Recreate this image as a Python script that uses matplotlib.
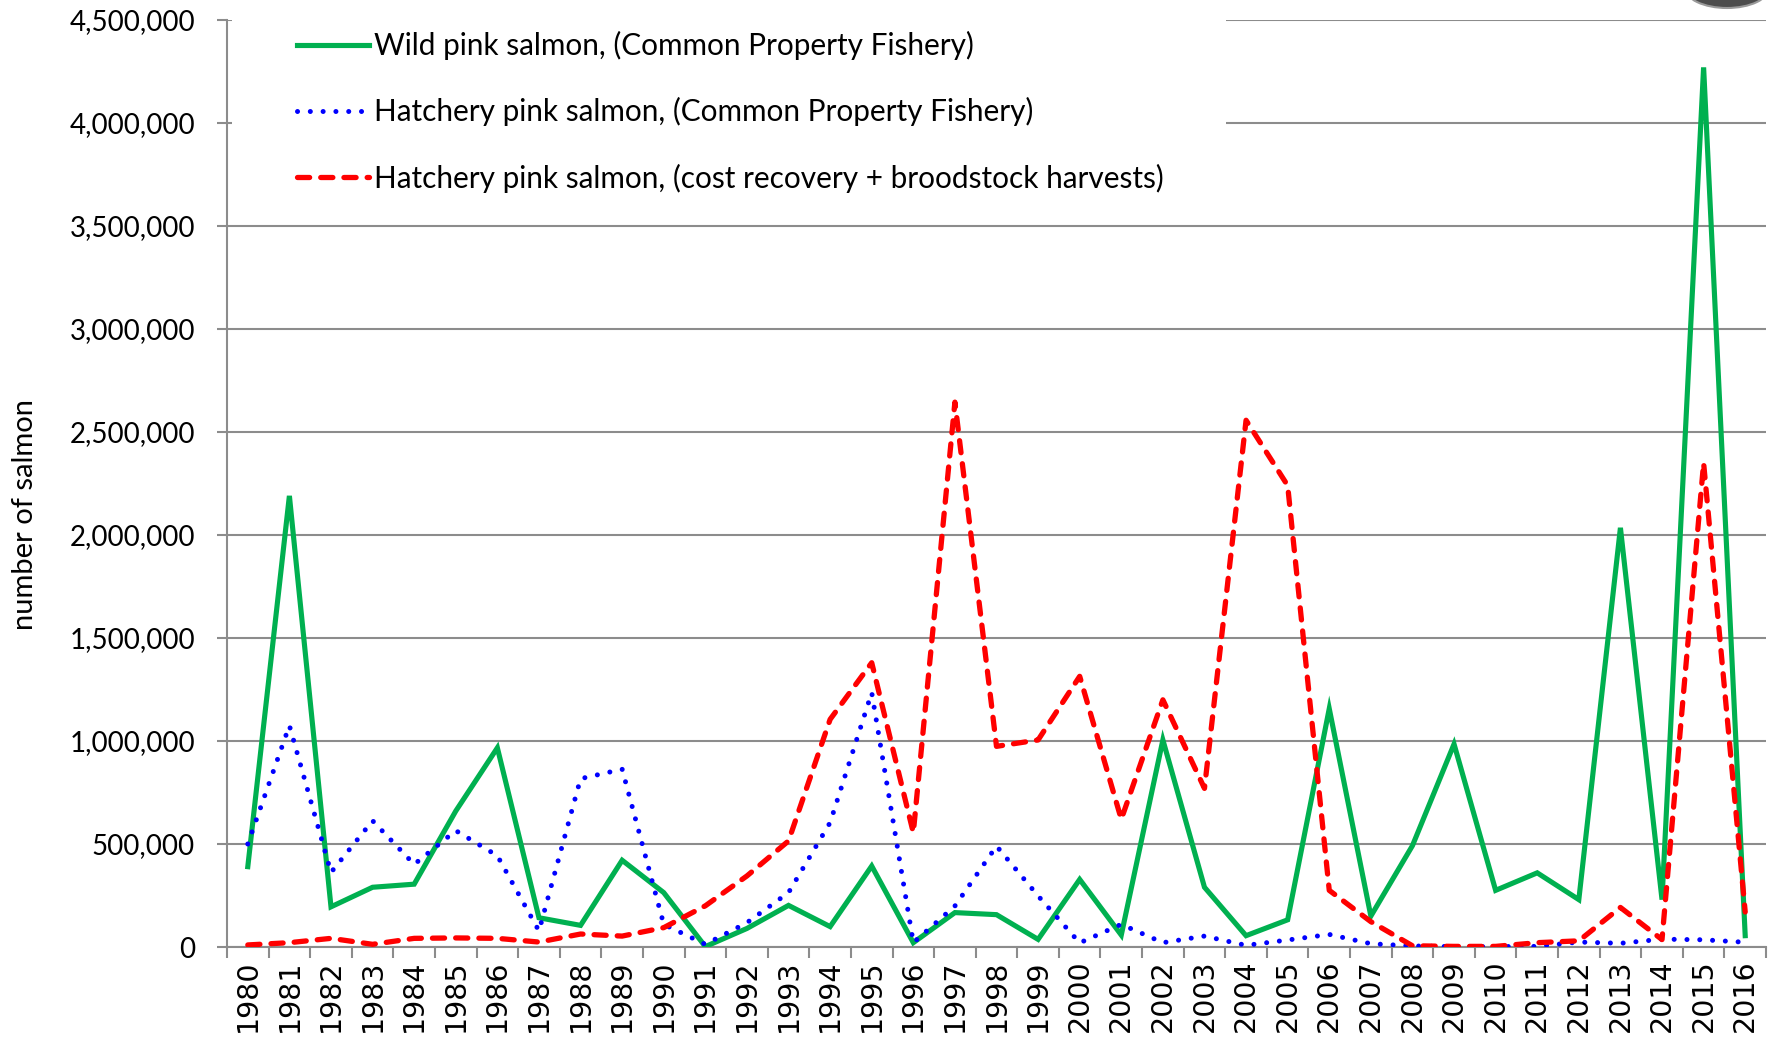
import numpy as np
import matplotlib
matplotlib.use('Agg')
import matplotlib.pyplot as plt
from matplotlib.patches import Rectangle, Ellipse
from matplotlib.ticker import FuncFormatter, FixedLocator, NullFormatter

years = [1980, 1981, 1982, 1983, 1984, 1985, 1986, 1987, 1988, 1989,
         1990, 1991, 1992, 1993, 1994, 1995, 1996, 1997, 1998, 1999,
         2000, 2001, 2002, 2003, 2004, 2005, 2006, 2007, 2008, 2009,
         2010, 2011, 2012, 2013, 2014, 2015, 2016]

wild_cpf = [390000, 2190000, 195000, 290000, 305000, 660000, 967000, 142000, 105000, 421000,
            264000, 2000, 90000, 202000, 99000, 393000, 21000, 167000, 157000, 37000,
            328000, 58000, 1005000, 290000, 55000, 132000, 1157000, 150000, 492000, 985000,
            275000, 360000, 230000, 2035000, 230000, 4270000, 55000]

hatchery_cpf = [500000, 1075000, 362000, 613000, 401000, 565000, 443000, 78000, 817000, 863000,
                110000, 13000, 118000, 264000, 604000, 1235000, 21000, 199000, 490000, 248000,
                20000, 110000, 21000, 53000, 8000, 34000, 61000, 16000, 5000, 2000,
                2000, 3000, 24000, 18000, 38000, 35000, 23000]

hatchery_cost = [10000, 21000, 42000, 13000, 42000, 44000, 42000, 24000, 63000, 53000,
                 94000, 200000, 345000, 515000, 1105000, 1380000, 555000, 2645000, 974000, 1005000,
                 1314000, 620000, 1200000, 770000, 2557000, 2240000, 275000, 123000, 6000, 3000,
                 3000, 21000, 30000, 192000, 36000, 2350000, 170000]

labels = ['Wild pink salmon, (Common Property Fishery)',
          'Hatchery pink salmon, (Common Property Fishery)',
          'Hatchery pink salmon, (cost recovery + broodstock harvests)']

GRAY = '#8c8c8c'
W, H = 1779, 1040
fig = plt.figure(figsize=(W / 100, H / 100), dpi=100)
ax = fig.add_axes([227 / W, (H - 947) / H, 1539 / W, 927 / H])

x = np.arange(len(years))
ax.plot(x, wild_cpf, color='#00B050', lw=3.7, solid_joinstyle='miter', zorder=3, label=labels[0])
ax.plot(x, hatchery_cpf, color='#0000FF', lw=3.6, linestyle=(0, (0.01, 2.55)),
        dash_capstyle='round', zorder=3, label=labels[1])
ax.plot(x, hatchery_cost, color='#FF0000', lw=3.8, linestyle=(0, (2.3, 2.1)),
        dash_capstyle='round', zorder=3, label=labels[2])

ax.set_xlim(-0.5, len(years) - 0.5)
ax.set_ylim(0, 4500000)
ax.set_yticks(np.arange(0, 4500001, 500000))
ax.yaxis.set_major_formatter(FuncFormatter(lambda v, p: f'{v:,.0f}'))
ax.grid(axis='y', color=GRAY, lw=1.5)
ax.set_axisbelow(True)

# category axis: ticks on boundaries, labels in the middle
ax.xaxis.set_major_locator(FixedLocator(np.arange(-0.5, len(years), 1.0)))
ax.xaxis.set_major_formatter(NullFormatter())
ax.xaxis.set_minor_locator(FixedLocator(x))
ax.set_xticklabels([str(y) for y in years], minor=True, rotation=90,
                   fontfamily='DejaVu Sans', fontsize=20.5)
ax.tick_params(axis='x', which='major', length=8, width=1.5, color=GRAY, direction='out')
ax.tick_params(axis='x', which='minor', length=0, pad=9)
ax.tick_params(axis='y', length=7, width=1.5, color=GRAY, pad=16, labelsize=20)
for t in ax.get_yticklabels():
    t.set_fontfamily('Lato')

for s in ['top', 'right']:
    ax.spines[s].set_visible(False)
for s in ['left', 'bottom']:
    ax.spines[s].set_color(GRAY)
    ax.spines[s].set_linewidth(1.5)

fig.text(25 / W, 1 - 515 / H, 'number of salmon', rotation=90, ha='center', va='center',
         fontfamily='Lato', fontsize=21)

# white legend box covering the gridlines
ax.add_patch(Rectangle((0.003, 0.806), 0.646, 0.21, transform=ax.transAxes,
                       facecolor='white', edgecolor='none', zorder=2, clip_on=False))
leg = ax.legend(loc='upper left', bbox_to_anchor=((297 - 227) / 1539, (947 - 31) / 927),
                frameon=False, borderaxespad=0, borderpad=0, handlelength=2.42,
                handletextpad=0.17, labelspacing=1.25, prop={'family': 'Lato', 'size': 21.4})
leg.set_zorder(5)

# bit of a logo peeking in at the top right
fig.add_artist(Ellipse((1727 / W, 1 + 12 / H), 84 / W, 40 / H, transform=fig.transFigure,
                       facecolor='#4d4d4d', edgecolor='#9a9a9a', lw=1.5))

fig.savefig('out.png', dpi=100)
